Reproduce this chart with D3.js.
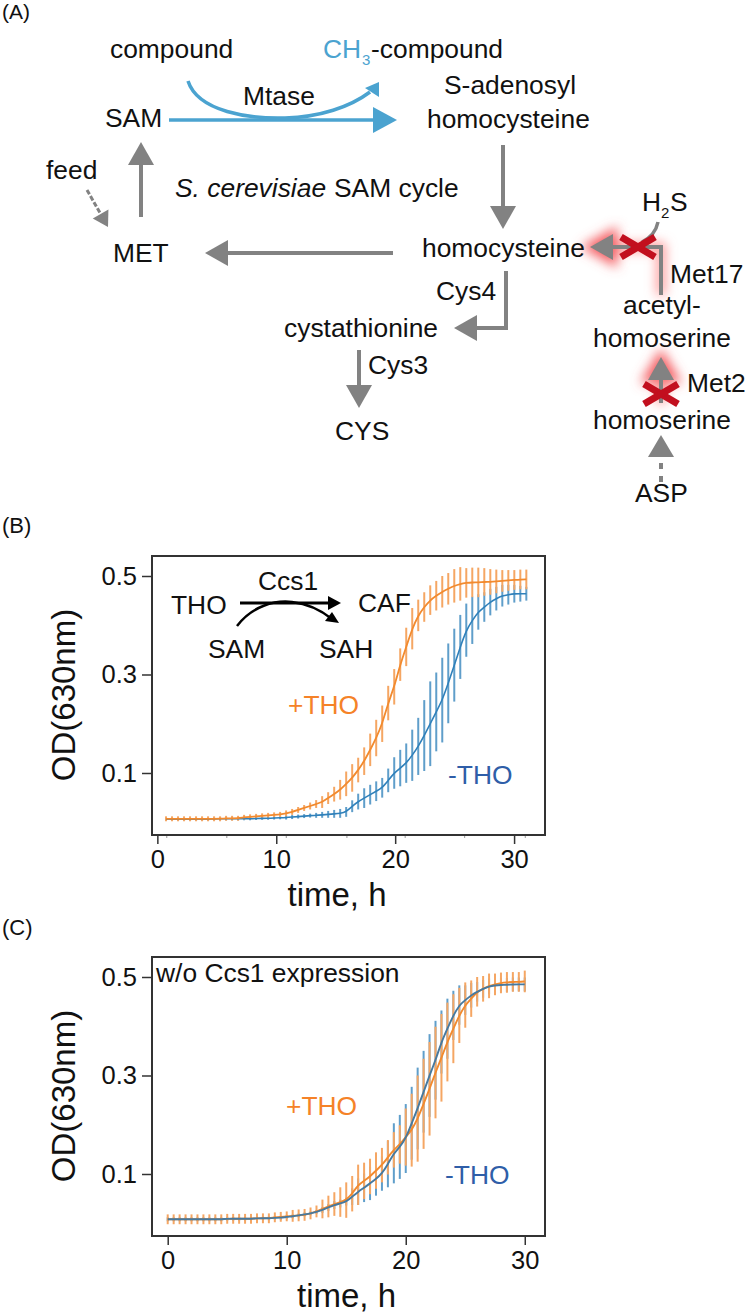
<!DOCTYPE html>
<html>
<head>
<meta charset="utf-8">
<script src="https://cdn.jsdelivr.net/npm/d3@7"></script>
<style>
    html, body { margin: 0; padding: 0; background: #fff; }
    svg { display: block; }
    text { font-family: "Liberation Sans", Arial, sans-serif; fill: #111; }
</style>
</head>
<body>
<div id="figure"></div>
<script>
// DATA (OD630, one value every half hour)
const bOrangeMean = [.007,.007,.007,.007,.007,.007,.007,.007,.007,.007,.008,.008,.008,.010,.011,.012,.013,.014,.015,.016,.018,.021,.025,.029,.033,.037,.041,.049,.057,.066,.078,.090,.106,.124,.147,.171,.200,.242,.275,.320,.356,.393,.420,.437,.451,.460,.468,.474,.480,.484,.486,.487,.487,.488,.488,.489,.490,.491,.492,.493,.493];
const bOrangeErr = [.005,.005,.005,.005,.005,.005,.005,.005,.005,.005,.005,.005,.005,.005,.005,.005,.005,.005,.005,.005,.006,.006,.006,.006,.007,.008,.012,.012,.015,.020,.025,.028,.025,.028,.033,.037,.037,.035,.036,.033,.039,.042,.032,.030,.030,.030,.032,.032,.034,.034,.030,.030,.030,.028,.026,.024,.022,.021,.020,.020,.020];
const bBlueMean = [.006,.006,.006,.006,.006,.006,.006,.006,.007,.007,.007,.007,.007,.007,.007,.0075,.008,.008,.0085,.009,.0095,.0105,.0115,.0125,.0135,.014,.015,.016,.017,.018,.021,.0325,.042,.049,.056,.063,.070,.085,.100,.110,.120,.136,.154,.176,.200,.224,.248,.282,.319,.356,.390,.410,.427,.437,.447,.454,.460,.462,.464,.464,.464];
const bBlueErr = [.003,.003,.003,.003,.003,.003,.003,.003,.003,.003,.003,.003,.003,.003,.003,.003,.003,.003,.003,.003,.004,.004,.004,.004,.004,.005,.006,.007,.008,.009,.010,.012,.016,.020,.020,.020,.020,.024,.032,.037,.040,.052,.058,.072,.086,.080,.086,.081,.074,.065,.054,.048,.036,.030,.027,.024,.022,.020,.018,.016,.014];

const cOrangeMean = [.008,.008,.008,.008,.008,.008,.008,.008,.008,.008,.009,.009,.009,.009,.009,.010,.010,.010,.012,.013,.014,.015,.016,.017,.020,.024,.029,.034,.039,.043,.047,.060,.078,.086,.095,.107,.118,.134,.149,.160,.175,.189,.2125,.2425,.273,.306,.336,.368,.395,.422,.443,.456,.470,.476,.482,.485,.488,.489,.490,.490,.491];
const cOrangeErr = [.010,.010,.010,.010,.010,.010,.010,.010,.010,.010,.010,.010,.010,.010,.010,.010,.010,.010,.010,.010,.010,.012,.012,.012,.012,.012,.019,.022,.024,.030,.036,.036,.041,.037,.036,.037,.035,.035,.036,.039,.058,.074,.0875,.0915,.095,.093,.089,.080,.070,.056,.046,.037,.030,.026,.025,.022,.021,.021,.020,.020,.022];
const cBlueMean = [.008,.008,.008,.008,.008,.008,.008,.008,.008,.008,.009,.009,.009,.009,.009,.010,.010,.010,.011,.011,.013,.014,.016,.018,.020,.023,.027,.032,.037,.040,.044,.054,.064,.072,.081,.090,.101,.120,.142,.155,.172,.203,.233,.267,.300,.331,.368,.395,.422,.443,.453,.463,.470,.476,.481,.483,.484,.484,.485,.485,.485];
const cBlueErr = [.004,.004,.004,.004,.004,.004,.004,.004,.004,.004,.004,.004,.004,.004,.004,.004,.004,.004,.004,.004,.004,.004,.004,.004,.004,.004,.006,.007,.008,.008,.008,.017,.027,.029,.034,.034,.035,.047,.061,.065,.070,.074,.083,.083,.084,.080,.064,.061,.050,.040,.030,.025,.020,.018,.016,.015,.014,.014,.014,.014,.014];

const bTimes = bOrangeMean.map((d, i) => 0.73 + i * 0.505);
const cTimes = cOrangeMean.map((d, i) => i * 0.5);
const yTicks = [0.1, 0.3, 0.5];
const xTicks = [0, 10, 20, 30];
const bMinorTicks = [0.75, 5.8, 10.8, 15.9, 20.8, 25.8, 30.9];

// COLORS
const grey = '#828282';
const teal = '#4ba3d0';
const red = '#c20f1e';
const orange = '#f28a2e';
const orangeBar = '#f5a663';
const blue = '#2f80ba';
const blueBar = '#5f9eca';
const orangeText = '#f58228';
const blueText = '#2f5ea8';

const w = 745;
const h = 1312;
const svg = d3.select('#figure')
    .append('svg')
    .attr('width', w)
    .attr('height', h);

svg.append('rect').attr('width', w).attr('height', h).attr('fill', '#fff');

svg.append('defs')
    .append('filter')
    .attr('id', 'glow')
    .attr('x', '-60%').attr('y', '-60%').attr('width', '220%').attr('height', '220%')
    .append('feGaussianBlur')
    .attr('stdDeviation', 6);

function label(g, str, x, y, opts = {}) {
    return g.append('text')
        .attr('x', x)
        .attr('y', y)
        .attr('font-size', opts.size || 26.4)
        .attr('font-style', opts.italic ? 'italic' : null)
        .style('fill', opts.color || null)
        .text(str);
}

// straight arrow: shaft from (x1,y1), triangle head ending at (x2,y2)
function arrow(g, x1, y1, x2, y2, color = grey, sw = 4, headLen = 23, headHalf = 13, dash = null) {
    const a = Math.atan2(y2 - y1, x2 - x1);
    const bx = x2 - headLen * Math.cos(a);
    const by = y2 - headLen * Math.sin(a);
    g.append('line')
        .attr('x1', x1).attr('y1', y1).attr('x2', bx).attr('y2', by)
        .attr('stroke', color)
        .attr('stroke-width', sw)
        .attr('stroke-dasharray', dash);
    head(g, x2, y2, a, color, headLen, headHalf);
}

function head(g, x, y, a, color, headLen, headHalf) {
    const bx = x - headLen * Math.cos(a);
    const by = y - headLen * Math.sin(a);
    const nx = -Math.sin(a) * headHalf;
    const ny = Math.cos(a) * headHalf;
    g.append('path')
        .attr('d', `M${x},${y}L${bx + nx},${by + ny}L${bx - nx},${by - ny}Z`)
        .attr('fill', color);
}

function cross(g, cx, cy) {
    [[-17, -10, 17, 10], [-17, 10, 17, -10]].forEach(d => {
        g.append('line')
            .attr('x1', cx + d[0]).attr('y1', cy + d[1])
            .attr('x2', cx + d[2]).attr('y2', cy + d[3])
            .attr('stroke', red)
            .attr('stroke-width', 7);
    });
}

// PANEL A
const a = svg.append('g').attr('id', 'panel-a');

// red halo behind the two blocked steps
const glow = a.append('g').attr('filter', 'url(#glow)');
glow.append('path')
    .attr('d', 'M661,295V247H612')
    .attr('fill', 'none')
    .attr('stroke', '#f88')
    .attr('stroke-width', 8);
glow.append('path')
    .attr('d', 'M590,247L613,234L613,260Z')
    .attr('fill', '#f45c60')
    .attr('stroke', '#f45c60')
    .attr('stroke-width', 9);
glow.append('path')
    .attr('d', 'M661,357L648,379L674,379Z')
    .attr('fill', '#f45c60')
    .attr('stroke', '#f45c60')
    .attr('stroke-width', 9);
glow.append('line')
    .attr('x1', 661).attr('y1', 379).attr('x2', 661).attr('y2', 403)
    .attr('stroke', '#f88')
    .attr('stroke-width', 10);

label(a, '(A)', 2, 19, { size: 21 });
label(a, 'compound', 110, 58);
label(a, 'CH', 323, 58, { color: teal });
label(a, '3', 362, 65, { size: 15, color: teal });
label(a, '-compound', 371, 58);
label(a, 'Mtase', 243, 105);
label(a, 'S-adenosyl', 444, 94);
label(a, 'homocysteine', 427, 128);
label(a, 'SAM', 105, 127);
label(a, 'feed', 46, 179);
label(a, 'S. cerevisiae', 175, 197, { italic: true });
label(a, 'SAM cycle', 334, 197);
label(a, 'MET', 113, 262);
label(a, 'homocysteine', 422, 257);
label(a, 'Cys4', 436, 300);
label(a, 'cystathionine', 284, 337);
label(a, 'Cys3', 368, 374);
label(a, 'CYS', 335, 440);
label(a, 'H', 642, 211);
label(a, '2', 661, 218, { size: 15 });
label(a, 'S', 670, 211);
label(a, 'Met17', 670, 283);
label(a, 'acetyl-', 623, 314);
label(a, 'homoserine', 593, 347);
label(a, 'Met2', 687, 392);
label(a, 'homoserine', 593, 429);
label(a, 'ASP', 635, 502);

// methyl transfer
arrow(a, 169, 120, 397, 120, teal, 3.5, 24, 13);
a.append('path')
    .attr('d', 'M188,81C198,112 250,119 285,118C320,117 350,107 370,92')
    .attr('fill', 'none')
    .attr('stroke', teal)
    .attr('stroke-width', 3.5);
a.append('path').attr('d', 'M379,82L365,88L379,97Z').attr('fill', teal);

// SAM cycle
arrow(a, 141, 217, 141, 142);
arrow(a, 87, 190, 108, 227, grey, 3, 15, 9, '5 2');
arrow(a, 393, 253, 205, 253);
arrow(a, 503, 145, 503, 229);
a.append('path')
    .attr('d', 'M506,271V328H477')
    .attr('fill', 'none')
    .attr('stroke', grey)
    .attr('stroke-width', 4);
head(a, 454, 328, Math.PI, grey, 23, 13);
arrow(a, 359, 350, 359, 408);

// transsulfuration side
a.append('path')
    .attr('d', 'M661,295V247H612')
    .attr('fill', 'none')
    .attr('stroke', grey)
    .attr('stroke-width', 4);
head(a, 590, 247, Math.PI, grey, 23, 13);
a.append('path')
    .attr('d', 'M658,222C656,232 650,238 642,242')
    .attr('fill', 'none')
    .attr('stroke', grey)
    .attr('stroke-width', 3.5);
cross(a, 638, 247);
arrow(a, 661, 403, 661, 357);
cross(a, 661, 394);
arrow(a, 661, 482, 661, 435, grey, 4, 22, 13, '6 7');

// GROWTH CURVES
function drawPanel(opts) {
    const g = svg.append('g').attr('id', opts.id);
    const xScale = d3.scaleLinear().domain(opts.xDomain).range([152, 545]);
    const yScale = d3.scaleLinear().domain([-0.0259, 0.5406]).range([opts.bottom, opts.bottom - 279]);
    const line = d3.line()
        .x(d => xScale(d.t))
        .y(d => yScale(d.v))
        .curve(d3.curveBasis);

    opts.series.forEach(s => {
        const rows = s.mean.map((v, i) => ({ t: opts.times[i], v: v, e: s.err[i] }));
        g.append('g')
            .selectAll('line')
            .data(rows)
            .enter()
            .append('line')
            .attr('x1', d => xScale(d.t))
            .attr('x2', d => xScale(d.t))
            .attr('y1', d => yScale(d.v - d.e))
            .attr('y2', d => yScale(d.v + d.e))
            .attr('stroke', s.barColor)
            .attr('stroke-width', 2);
    });
    opts.series.forEach(s => {
        const rows = s.mean.map((v, i) => ({ t: opts.times[i], v: v }));
        g.append('path')
            .attr('class', s.lineClass)
            .datum(rows)
            .attr('d', line)
            .attr('fill', 'none')
            .attr('stroke', s.lineColor)
            .attr('stroke-width', s.lineWidth);
    });

    const xAxis = d3.axisBottom(xScale)
        .tickValues(xTicks)
        .tickSize(9)
        .tickSizeOuter(0)
        .tickPadding(6)
        .tickFormat(d3.format('d'));
    const yAxis = d3.axisLeft(yScale)
        .tickValues(yTicks)
        .tickSize(10)
        .tickSizeOuter(0)
        .tickPadding(5)
        .tickFormat(d3.format('.1f'));

    const gx = g.append('g')
        .attr('transform', `translate(0, ${opts.bottom})`)
        .call(xAxis);
    const gy = g.append('g')
        .attr('transform', 'translate(152, 0)')
        .call(yAxis);
    [gx, gy].forEach(ax => {
        ax.select('.domain').remove();
        ax.selectAll('.tick line').attr('stroke', '#333').attr('stroke-width', 1.5);
        ax.selectAll('.tick text')
            .attr('font-size', 25.5)
            .attr('font-family', '"Liberation Sans", Arial, sans-serif')
            .style('fill', '#111');
    });

    if (opts.minorTicks) {
        const minor = d3.axisBottom(xScale)
            .tickValues(opts.minorTicks)
            .tickSize(3)
            .tickSizeOuter(0)
            .tickFormat('');
        const gm = g.append('g')
            .attr('transform', `translate(0, ${opts.bottom})`)
            .call(minor);
        gm.select('.domain').remove();
        gm.selectAll('.tick line').attr('stroke', '#999').attr('stroke-width', 1);
    }

    g.append('rect')
        .attr('x', 152)
        .attr('y', opts.bottom - 279)
        .attr('width', 393)
        .attr('height', 279)
        .attr('fill', 'none')
        .attr('stroke', '#333')
        .attr('stroke-width', 2);

    g.append('text')
        .attr('transform', `translate(75, ${opts.bottom - 140}) rotate(-90)`)
        .attr('text-anchor', 'middle')
        .attr('font-size', 33)
        .text('OD(630nm)');
    g.append('text')
        .attr('x', opts.xLabelAt)
        .attr('y', opts.bottom + 70.5)
        .attr('text-anchor', 'middle')
        .attr('font-size', 33)
        .text('time, h');
    return g;
}

const b = drawPanel({
    id: 'panel-b',
    bottom: 835,
    times: bTimes,
    xDomain: [-0.45, 32.6],
    xLabelAt: 337,
    minorTicks: bMinorTicks,
    series: [
        { mean: bBlueMean, err: bBlueErr, barColor: blueBar, lineColor: blue, lineWidth: 1.6 },
        { mean: bOrangeMean, err: bOrangeErr, barColor: orangeBar, lineColor: orange, lineWidth: 1.8 }
    ]
});
label(b, '(B)', 2, 533, { size: 22 });
label(b, 'Ccs1', 258, 590);
label(b, 'THO', 171, 614);
label(b, 'CAF', 358, 612);
label(b, 'SAM', 208, 658);
label(b, 'SAH', 319, 658);
label(b, '+THO', 288, 714, { color: orangeText });
label(b, '-THO', 448, 784, { color: blueText });
arrow(b, 240, 603, 341, 603, '#000', 3, 13, 7);
b.append('path')
    .attr('d', 'M237,626C252,606 275,600 292,602C310,604 322,611 332,619')
    .attr('fill', 'none')
    .attr('stroke', '#000')
    .attr('stroke-width', 2.5);
b.append('path').attr('d', 'M339,623L332,612L325,621Z').attr('fill', '#000');

const c = drawPanel({
    id: 'panel-c',
    bottom: 1236,
    times: cTimes,
    xDomain: [-1.32, 31.7],
    xLabelAt: 346.5,
    series: [
        { mean: cBlueMean, err: cBlueErr, barColor: blueBar, lineColor: '#46799f', lineWidth: 1.9, lineClass: 'top-line' },
        { mean: cOrangeMean, err: cOrangeErr, barColor: orangeBar, lineColor: orange, lineWidth: 1.9 }
    ]
});
// blue curve sits on top of the orange one in this panel
c.select('.top-line').raise();
label(c, '(C)', 2, 935, { size: 22 });
label(c, 'w/o Ccs1 expression', 156, 982);
label(c, '+THO', 286, 1115, { color: orangeText });
label(c, '-THO', 445, 1184, { color: blueText });
</script>
</body>
</html>
